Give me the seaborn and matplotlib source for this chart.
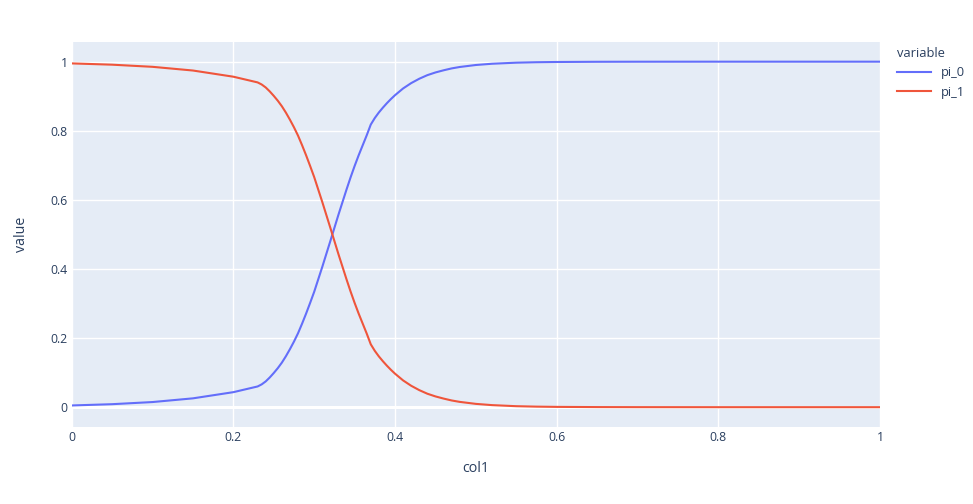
import pandas as pd
import seaborn as sns
import matplotlib.pyplot as plt

# values
col1 = [0.0, 0.05, 0.1, 0.15, 0.2, 0.23, 0.235, 0.24, 0.245, 0.25, 0.255,
        0.26, 0.265, 0.27, 0.275, 0.28, 0.285, 0.29, 0.295, 0.3, 0.31, 0.32,
        0.33, 0.34, 0.345, 0.35, 0.355, 0.36, 0.365, 0.37, 0.375, 0.38, 0.385,
        0.39, 0.395, 0.4, 0.41, 0.42, 0.43, 0.44, 0.45, 0.46, 0.47, 0.48, 0.5,
        0.52, 0.55, 0.575, 0.6, 0.65, 0.7, 0.8, 0.9, 1.0]
pi_0 = [0.005, 0.0087, 0.0149, 0.0256, 0.0435, 0.06, 0.066, 0.0746, 0.086,
        0.099, 0.1131, 0.129, 0.1475, 0.168, 0.190, 0.214, 0.2417, 0.271,
        0.302, 0.334, 0.406, 0.481, 0.557, 0.630, 0.665, 0.698, 0.729, 0.758,
        0.787, 0.818, 0.837, 0.853, 0.867, 0.880, 0.892, 0.903, 0.9225, 0.938,
        0.9506, 0.961, 0.9688, 0.975, 0.9805, 0.9846, 0.9904, 0.994, 0.9971,
        0.9984, 0.9991, 0.9997, 0.9999, 1.0, 1.0, 1.0]
pi_1 = [0.995, 0.9913, 0.9851, 0.9744, 0.9565, 0.94, 0.934, 0.9254, 0.914,
        0.901, 0.8869, 0.871, 0.8525, 0.832, 0.810, 0.786, 0.7583, 0.729,
        0.698, 0.666, 0.594, 0.519, 0.443, 0.370, 0.335, 0.302, 0.271, 0.242,
        0.213, 0.182, 0.163, 0.147, 0.133, 0.120, 0.108, 0.097, 0.0775, 0.062,
        0.0494, 0.039, 0.0312, 0.025, 0.0195, 0.0154, 0.0096, 0.006, 0.0029,
        0.0016, 0.0009, 0.0003, 0.0001, 0.0, 0.0, 0.0]

df = pd.DataFrame({'col1': col1, 'pi_0': pi_0, 'pi_1': pi_1})
long_df = df.melt(id_vars='col1', var_name='variable', value_name='value')

text_col = '#2a3f5f'
plt.rcParams['font.family'] = ['Open Sans', 'DejaVu Sans']

fig = plt.figure(figsize=(9.73, 5.04), dpi=100)
ax = fig.add_axes([0.0737, 0.153, 0.8307, 0.7637])
ax.set_facecolor('#E5ECF6')

sns.lineplot(data=long_df, x='col1', y='value', hue='variable',
             palette=['#636EFA', '#EF553B'], linewidth=1.5, ax=ax, zorder=3)

ax.set_xlim(0, 1)
ax.set_ylim(-0.057, 1.057)
ticks = [0, 0.2, 0.4, 0.6, 0.8, 1]
labels = ['0', '0.2', '0.4', '0.6', '0.8', '1']
ax.set_xticks(ticks, labels)
ax.set_yticks(ticks, labels)
ax.grid(color='white', linewidth=1)
ax.set_axisbelow(True)
ax.axhline(0, color='white', linewidth=2.2, zorder=2)
for s in ax.spines.values():
    s.set_visible(False)
ax.tick_params(length=0, labelsize=8.8, colors=text_col, pad=3)
ax.set_xlabel('col1', fontsize=10.3, color=text_col, labelpad=12)
ax.set_ylabel('value', fontsize=10.3, color=text_col, labelpad=15)

ax.get_legend().remove()
handles, names = ax.get_legend_handles_labels()
leg = fig.legend(handles, names, title='variable', loc='upper left',
                 bbox_to_anchor=(0.91, 0.93), frameon=False,
                 fontsize=9.3, title_fontsize=9.3, handlelength=2.6,
                 alignment='left', labelspacing=0.5)
for t in leg.get_texts():
    t.set_color(text_col)
leg.get_title().set_color(text_col)

fig.savefig('out.png', dpi=100)
